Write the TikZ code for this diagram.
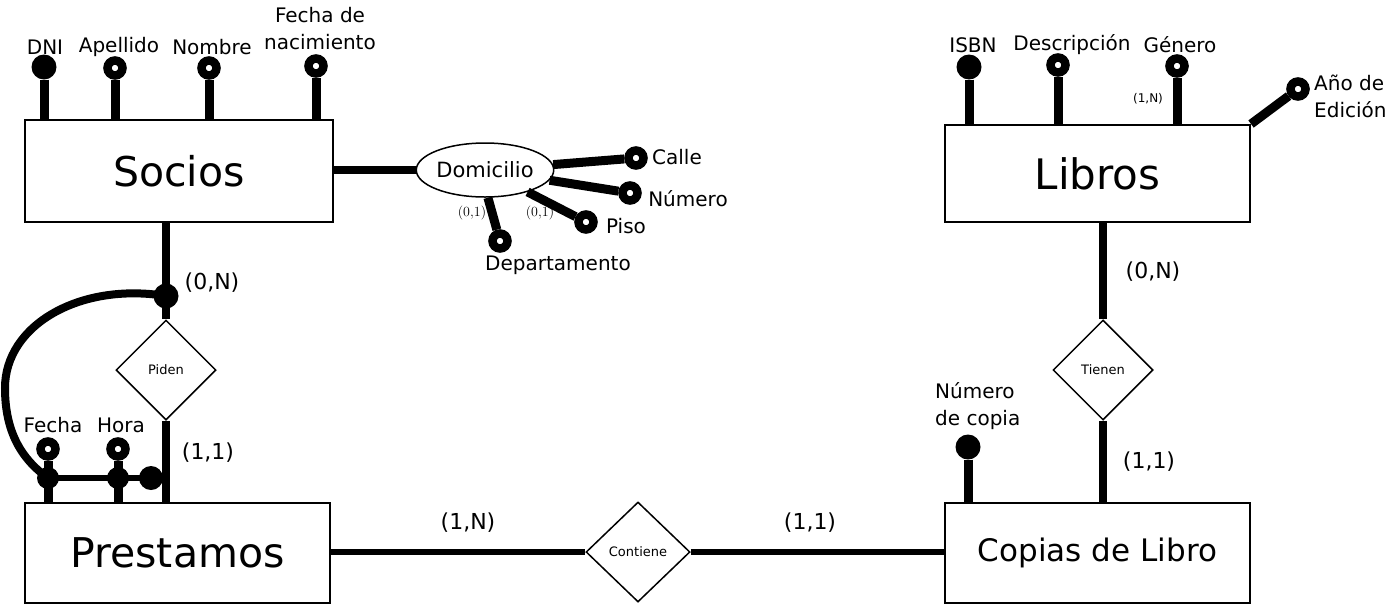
\documentclass[tikz,border=0pt]{standalone}
\usepackage{fontspec}
\newfontfamily\dv{DejaVu Sans}
\usetikzlibrary{shapes.geometric}
\begin{document}
\begin{tikzpicture}[x=1pt,y=-1pt,
  every node/.style={font=\dv},
  ent/.style={draw, line width=2pt, inner sep=0pt},
  rel/.style={diamond, draw, line width=1.5pt, minimum width=100pt, minimum height=100pt, inner sep=0pt, font=\dv\fontsize{13}{13}\selectfont},
  keyd/.style={circle, fill=black, inner sep=0pt, minimum size=25pt},
  optd/.style={circle, draw=black, fill=white, line width=8.5pt, inner sep=0pt, minimum size=15pt},
  attrl/.style={line width=9pt},
  rell/.style={line width=8pt},
  lab/.style={font=\dv\fontsize{20}{27}\selectfont, inner sep=0pt},
  card/.style={font=\dv\fontsize{22}{22}\selectfont, inner sep=0pt},
  smallcard/.style={font=\fontsize{14}{14}\selectfont, inner sep=0pt}
]
\useasboundingbox (0,0) rectangle (1394,606);

% entities
\node[ent, minimum width=308pt, minimum height=102pt, font=\dv\fontsize{41}{41}\selectfont] (socios) at (179,171) {Socios};
\node[ent, minimum width=305pt, minimum height=97pt, font=\dv\fontsize{42}{42}\selectfont] (libros) at (1097.5,173.5) {\raisebox{-5pt}{Libros}};
\node[ent, minimum width=305pt, minimum height=100pt, font=\dv\fontsize{41}{41}\selectfont] (prest) at (177.5,553) {Prestamos};
\node[ent, minimum width=305pt, minimum height=100pt, font=\dv\fontsize{31}{31}\selectfont] (copias) at (1097.5,553) {Copias de Libro};

% relationships
\node[rel] (piden) at (166,370) {Piden};
\node[rel] (tienen) at (1103,370) {Tienen};
\node[rel, minimum width=104pt] (cont) at (638,552) {Contiene};

% Domicilio
\node[ellipse, draw, line width=1.5pt, minimum width=136pt, minimum height=54pt, inner sep=0pt, font=\dv\fontsize{21}{21}\selectfont] (dom) at (485,170) {Domicilio};

% Socios attributes
\node[keyd] (dni) at (44,67) {};
\node[optd] (ape) at (115,68) {};
\node[optd] (nom) at (209,68) {};
\node[optd] (fnac) at (316,66) {};
\draw[attrl] (dni) -- (dni |- socios.north);
\draw[attrl] (ape) -- (ape |- socios.north);
\draw[attrl] (nom) -- (nom |- socios.north);
\draw[attrl] (fnac) -- (fnac |- socios.north);
\node[lab] (ldni) at (45,47) {DNI};
\node[lab] (lape) at (119,47) {Apellido};
\node[lab] (lnom) at (212,47) {Nombre};
\node[lab, align=center] (lfnac) at (320,29) {Fecha de\\nacimiento};

% Domicilio attributes
\draw[line width=8pt] (socios.east |- dom) -- (dom.west);
\node[optd] (calle) at (636,158) {};
\node[optd] (num) at (630,193) {};
\node[optd] (piso) at (586,222) {};
\node[optd] (depto) at (500,241) {};
\draw[attrl] (dom) -- (calle);
\draw[attrl] (dom) -- (num);
\draw[attrl] (dom) -- (piso);
\draw[attrl] (dom.-84) -- (depto);
\node[lab] (lcalle) at (677,157) {Calle};
\node[lab] (lnum) at (688,199) {Número};
\node[lab] (lpiso) at (626,226) {Piso};
\node[lab] (ldepto) at (558,265) {Departamento};
\node[smallcard] (c01a) at (472,213) {(0,1)};
\node[smallcard] (c01b) at (540,213) {(0,1)};

% Socios - Piden - Prestamos
\node[keyd] (pdot) at (166,296) {};
\draw[rell] (piden.north |- socios.south) -- (piden.north);
\draw[rell] (piden.south) -- (piden.south |- prest.north);
\node[card] (c0n) at (212,283) {(0,N)};
\node[card] (c11a) at (208,453) {(1,1)};

% Fecha / Hora composite identifier
\node[optd] (fecha) at (48,449) {};
\node[optd] (hora) at (118,449) {};
\node[keyd, minimum size=22pt] (fj) at (48,478) {};
\node[keyd, minimum size=22pt] (hj) at (118,478) {};
\node[keyd, minimum size=24pt] (ej) at (151,478) {};
\draw[attrl] (fecha) -- (fecha |- prest.north);
\draw[attrl] (hora) -- (hora |- prest.north);
\draw[line width=6pt] (fj.center) -- (ej.center);
\coordinate (arcleft) at (5,388);
\draw[line width=8pt] (pdot.center) .. controls (80,282) and (5,325) .. (arcleft)
  .. controls (5,430) and (20,458) .. (fj.center);
\node[lab] (lfecha) at (53,425) {Fecha};
\node[lab] (lhora) at (121,425) {Hora};

% Contiene
\draw[line width=6pt] (prest.east |- cont) -- (cont.west);
\draw[line width=6pt] (cont.east) -- (copias.west |- cont);
\node[card] (c1n) at (468,523) {(1,N)};
\node[card] (c11b) at (810,523) {(1,1)};

% Libros attributes
\node[keyd] (isbn) at (969,67) {};
\node[optd] (desc) at (1058,65) {};
\node[optd] (gen) at (1177,66) {};
\node[optd] (anio) at (1298,89) {};
\draw[attrl] (isbn) -- (isbn |- libros.north);
\draw[attrl] (desc) -- (desc |- libros.north);
\draw[attrl] (gen) -- (gen |- libros.north);
\draw[attrl] (libros.north east) -- (anio);
\node[lab] (lisbn) at (973,45) {ISBN};
\node[lab] (ldesc) at (1072,45) {Descripción};
\node[lab] (lgen) at (1180,45) {Género};
\node[font=\dv\fontsize{12}{12}\selectfont, inner sep=0pt] (c1ng) at (1148,99) {(1,N)};
\node[lab, align=left, anchor=west] (lanio) at (1314,96) {Año de\\Edición};

% Libros - Tienen - Copias
\draw[rell] (tienen.north |- libros.south) -- (tienen.north);
\draw[rell] (tienen.south) -- (tienen.south |- copias.north);
\node[card] (c0nb) at (1153,272) {(0,N)};
\node[card] (c11c) at (1149,462) {(1,1)};

% Numero de copia
\node[keyd] (ncop) at (968,447) {};
\draw[attrl] (ncop) -- (ncop |- copias.north);
\node[lab, align=left, anchor=west] (lncop) at (935,406) {Número\\de copia};
\end{tikzpicture}
\end{document}
